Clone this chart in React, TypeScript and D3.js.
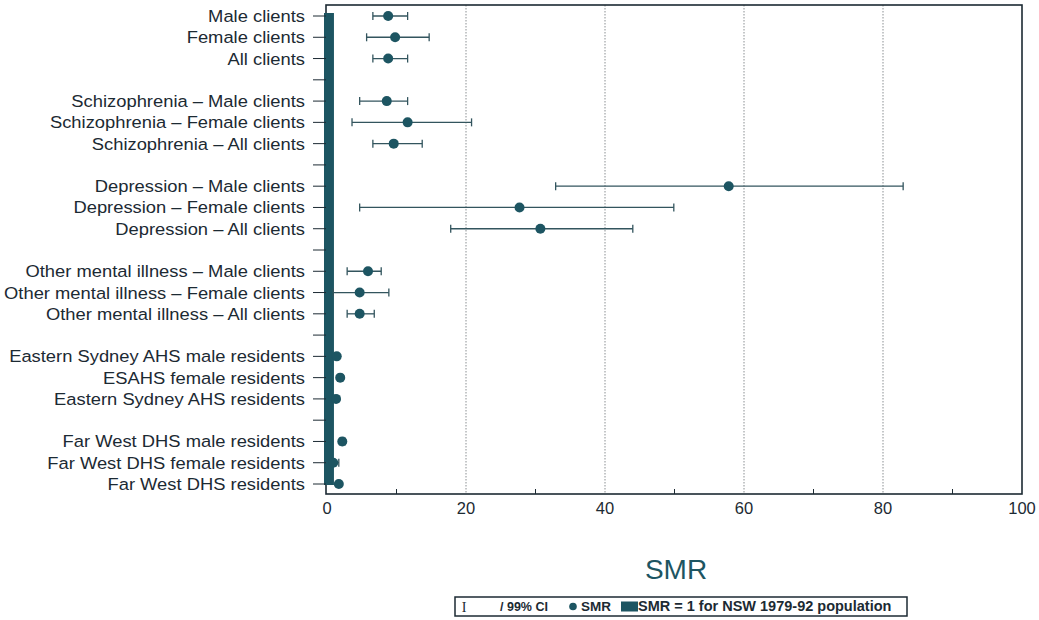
import React from "react";
import * as d3 from "d3";

const labels = [
  "Male clients", "Female clients", "All clients", "",
  "Schizophrenia – Male clients", "Schizophrenia – Female clients", "Schizophrenia – All clients", "",
  "Depression – Male clients", "Depression – Female clients", "Depression – All clients", "",
  "Other mental illness – Male clients", "Other mental illness – Female clients", "Other mental illness – All clients", "",
  "Eastern Sydney AHS male residents", "ESAHS female residents", "Eastern Sydney AHS residents", "",
  "Far West DHS male residents", "Far West DHS female residents", "Far West DHS residents",
];
const smr: (number | null)[] = [8.8, 9.8, 8.8, null, 8.6, 11.6, 9.6, null, 57.8, 27.7, 30.7, null, 5.9, 4.7, 4.7, null, 1.4, 1.9, 1.3, null, 2.2, 0.9, 1.7];
const ciLow: (number | null)[] = [6.6, 5.7, 6.6, null, 4.7, 3.6, 6.6, null, 32.9, 4.7, 17.8, null, 2.9, 0.9, 2.9, null, 1.2, 1.6, 1.1, null, 1.8, 0.5, 1.4];
const ciHigh: (number | null)[] = [11.6, 14.7, 11.6, null, 11.6, 20.8, 13.7, null, 82.9, 49.9, 44.0, null, 7.8, 8.9, 6.8, null, 1.6, 2.2, 1.5, null, 2.6, 1.7, 2.0];
const xTicks = [0, 20, 40, 60, 80, 100];
const minorTicks = [10, 30, 50, 70, 90];
const refValue = 1;

const TEAL = "#1d5562";
const TEXT = "#1c2a33";
const FONT = "'Liberation Sans', Arial, sans-serif";

export default function App() {
  const left = 326, right = 1022, top = 5, bottom = 494;
  const x = d3.scaleLinear().domain([0, 100]).range([327, 1022]);
  const y = d3.scalePoint<number>().domain(labels.map((_, i) => i)).range([16, 484]);

  return (
    <svg width={1039} height={620} style={{ position: "absolute", left: 0, top: 0, background: "#fff" }} fontFamily={FONT}>
      {/* gridlines */}
      {xTicks.filter((t) => t > 0 && t < 100).map((t) => (
        <line key={"g" + t} x1={x(t)} x2={x(t)} y1={top} y2={bottom} stroke="#8a8f92" strokeWidth={1} strokeDasharray="1.5,1.5" />
      ))}
      {/* frame */}
      <rect x={left} y={top} width={right - left} height={bottom - top} fill="none" stroke={TEXT} strokeWidth={1.6} />
      {/* minor ticks */}
      {minorTicks.map((t) => (
        <line key={"m" + t} x1={x(t)} x2={x(t)} y1={bottom} y2={bottom - 5} stroke={TEXT} strokeWidth={1} />
      ))}
      {/* x tick labels */}
      {xTicks.map((t) => (
        <text key={"t" + t} x={x(t)} y={514} textAnchor="middle" fontSize={16.5} fill={TEXT}>{t}</text>
      ))}
      {/* reference bar SMR = 1 */}
      <rect x={x(0) - 3} y={y(0)! - 3} width={x(refValue) - x(0) + 3} height={y(labels.length - 1)! - y(0)! + 4} fill={TEAL} />
      {/* y ticks and labels */}
      {labels.map((l, i) => (
        <g key={"l" + i}>
          <line x1={313} x2={left} y1={y(i)} y2={y(i)} stroke={TEXT} strokeWidth={1} />
          {l && (
            <text transform={`translate(305,${y(i)! + 6}) scale(1.08,1)`} textAnchor="end" fontSize={17} fill={TEXT}>{l}</text>
          )}
        </g>
      ))}
      {/* error bars and points */}
      {labels.map((_, i) => {
        const v = smr[i], lo = ciLow[i], hi = ciHigh[i];
        if (v == null || lo == null || hi == null) return null;
        const yy = y(i)!;
        return (
          <g key={"p" + i}>
            <line x1={x(lo)} x2={x(hi)} y1={yy} y2={yy} stroke="#33555e" strokeWidth={1.3} />
            <line x1={x(lo)} x2={x(lo)} y1={yy - 4} y2={yy + 4} stroke="#33555e" strokeWidth={1.3} />
            <line x1={x(hi)} x2={x(hi)} y1={yy - 4} y2={yy + 4} stroke="#33555e" strokeWidth={1.3} />
            <circle cx={x(v)} cy={yy} r={5} fill={TEAL} />
          </g>
        );
      })}
      {/* axis title */}
      <text x={676} y={579} textAnchor="middle" fontSize={28} fill={TEAL}>SMR</text>
      {/* legend */}
      <g fontWeight="bold" fill={TEXT}>
        <rect x={455} y={597} width={452} height={19} fill="#fff" stroke={TEXT} strokeWidth={1.5} />
        <text x={464} y={611.5} textAnchor="middle" fontFamily="'Liberation Serif', serif" fontWeight="normal" fontSize={14}>I</text>
        <text x={500} y={611} fontSize={12.5}>/ 99% CI</text>
        <circle cx={573} cy={606.5} r={3.8} fill={TEAL} />
        <text x={581} y={611} fontSize={13.5}>SMR</text>
        <rect x={621} y={601.5} width={17} height={10} fill={TEAL} />
        <text x={638} y={611} fontSize={14.5}>SMR = 1 for NSW 1979-92 population</text>
      </g>
    </svg>
  );
}
